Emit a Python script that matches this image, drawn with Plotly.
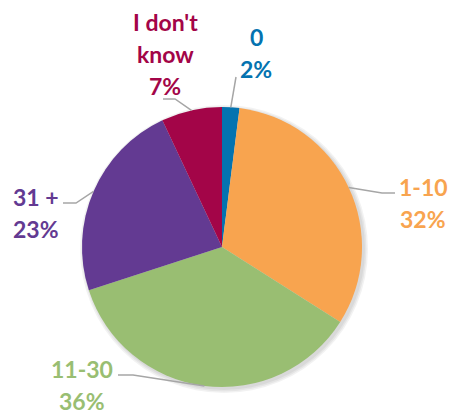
import math
import plotly.graph_objects as go

categories = ["0", "1-10", "11-30", "31 +", "I don't know"]
values = [2, 32, 36, 23, 7]
colors = ["#0473B0", "#F8A44F", "#99BE72", "#633A92", "#A30548"]
label_lines = [["0", "2%"], ["1-10", "32%"], ["11-30", "36%"], ["31 +", "23%"], ["I don't", "know", "7%"]]

W, H = 450, 414
CX, CY, R = 222, 247, 140

# layout: label text centers (px) and leader knee/end points (px)
label_pos = [(256, 37), (423, 187), (82, 369), (36, 197), (165, 22)]
line_gap = 32
knees = [None, (382, 193), (133, 375), (76, 203), (175, 99)]
ends = [(236, 77), (395, 193), (118, 375), (63, 203), (163, 99)]

def px(x, y):
    return x / W, 1 - y / H

fig = go.Figure()
fig.add_trace(go.Pie(
    labels=categories, values=values, sort=False, direction="clockwise",
    rotation=0, marker=dict(colors=colors, line=dict(width=0)),
    textinfo="none", hoverinfo="label+percent", showlegend=False,
    domain=dict(x=[(CX - R) / W, (CX + R) / W], y=[1 - (CY + R) / H, 1 - (CY - R) / H]),
))

shapes = []
# soft shadow
for i, a in enumerate([0.05, 0.05, 0.05]):
    d = 1 + i * 1.5
    x0, y0 = px(CX - R - d + 2, CY - R - d + 2)
    x1, y1 = px(CX + R + d + 2, CY + R + d + 2)
    shapes.append(dict(type="circle", xref="paper", yref="paper", x0=x0, x1=x1, y0=y1, y1=y0,
                       fillcolor=f"rgba(0,0,0,{a})", line=dict(width=0), layer="below"))

annotations = []
total = sum(values)
cum = 0
for i, v in enumerate(values):
    mid = (cum + v / 2) / total * 2 * math.pi
    cum += v
    sx, sy = CX + R * math.sin(mid), CY - R * math.cos(mid)
    pts = [(sx, sy)]
    if knees[i] is not None:
        pts.append(knees[i])
    pts.append(ends[i])
    path = "M " + " L ".join(f"{px(x, y)[0]:.5f},{px(x, y)[1]:.5f}" for x, y in pts)
    shapes.append(dict(type="path", xref="paper", yref="paper", path=path,
                       line=dict(color="#A6A6A6", width=1.5)))
    lx, ly = label_pos[i]
    for j, t in enumerate(label_lines[i]):
        ax, ay = px(lx, ly + j * line_gap)
        annotations.append(dict(text=f"<b>{t}</b>", x=ax, y=ay, xref="paper", yref="paper",
                                showarrow=False, xanchor="center", yanchor="middle",
                                font=dict(family="Lato", size=23, color=colors[i])))

fig.update_layout(width=W, height=H, margin=dict(l=0, r=0, t=0, b=0),
                  paper_bgcolor="white", plot_bgcolor="white",
                  shapes=shapes, annotations=annotations)
fig.write_html("out.html")
